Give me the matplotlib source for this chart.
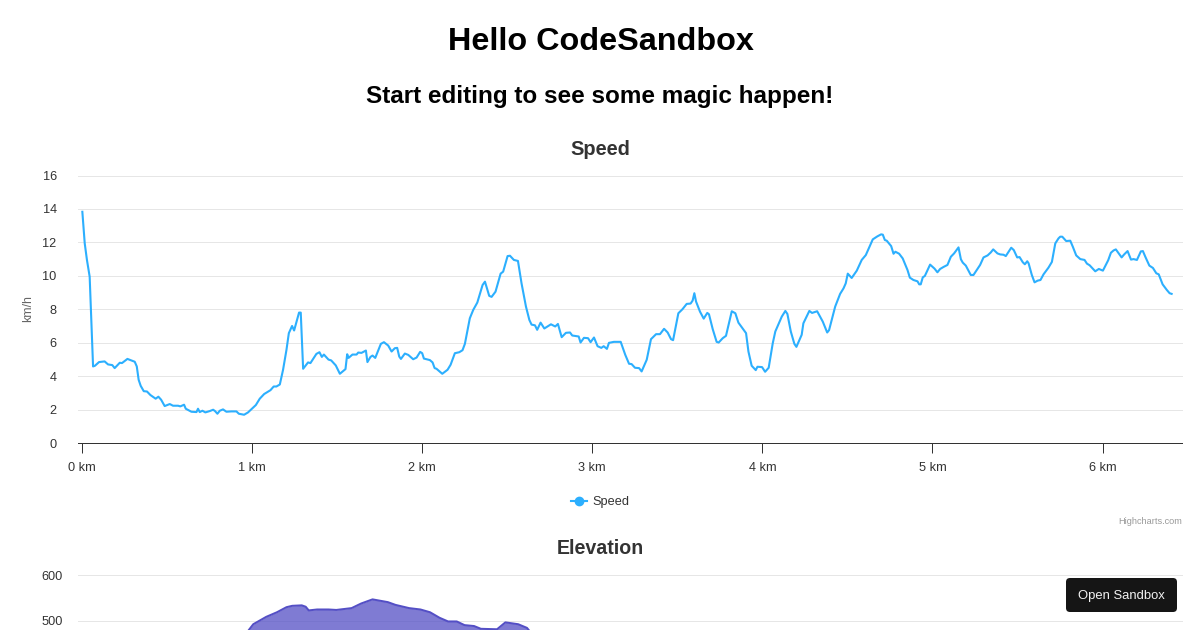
import matplotlib
matplotlib.use('Agg')
import matplotlib.pyplot as plt
from matplotlib.lines import Line2D
from matplotlib.patches import FancyBboxPatch
from matplotlib.transforms import IdentityTransform

plt.rcParams['font.family'] = ['Liberation Sans', 'DejaVu Sans']

# speed series
speed_km = [0.002,0.016,0.029,0.045,0.065,0.076,0.1,0.133,0.153,0.178,0.192,0.222,0.235,0.267,0.31,0.322,0.333,0.345,0.363,0.382,
            0.402,0.433,0.449,0.465,0.486,0.516,0.535,0.565,0.578,0.6,0.61,0.643,0.673,0.682,0.692,0.708,0.725,0.751,0.771,0.782,
            0.796,0.81,0.829,0.849,0.878,0.908,0.922,0.953,0.976,1.022,1.045,1.071,1.108,1.127,1.143,1.163,1.182,1.202,1.216,1.235,
            1.247,1.276,1.286,1.3,1.329,1.343,1.378,1.396,1.41,1.422,1.449,1.465,1.492,1.516,1.549,1.559,1.567,1.59,1.614,1.624,
            1.643,1.669,1.678,1.696,1.708,1.724,1.757,1.775,1.8,1.82,1.839,1.853,1.865,1.875,1.898,1.918,1.947,1.967,1.988,2.0,
            2.01,2.045,2.061,2.073,2.084,2.118,2.149,2.167,2.192,2.218,2.237,2.251,2.28,2.3,2.324,2.355,2.369,2.394,2.408,2.431,
            2.461,2.476,2.502,2.516,2.539,2.563,2.584,2.61,2.63,2.643,2.663,2.676,2.696,2.718,2.757,2.782,2.798,2.82,2.845,2.869,
            2.882,2.92,2.931,2.951,2.975,2.99,3.01,3.031,3.053,3.067,3.086,3.098,3.127,3.167,3.194,3.216,3.231,3.251,3.275,3.29,
            3.32,3.345,3.375,3.398,3.422,3.443,3.463,3.475,3.506,3.53,3.555,3.578,3.59,3.6,3.61,3.633,3.655,3.676,3.686,3.708,
            3.731,3.743,3.767,3.786,3.82,3.841,3.859,3.904,3.918,3.937,3.961,3.971,3.998,4.016,4.037,4.061,4.076,4.114,4.135,4.147,
            4.167,4.188,4.2,4.231,4.241,4.276,4.292,4.322,4.355,4.381,4.392,4.428,4.457,4.477,4.49,4.502,4.525,4.555,4.584,4.608,
            4.649,4.676,4.698,4.708,4.72,4.731,4.757,4.771,4.782,4.804,4.825,4.853,4.867,4.888,4.912,4.922,4.931,4.943,4.955,4.986,
            5.012,5.029,5.045,5.065,5.088,5.108,5.127,5.153,5.167,5.178,5.196,5.225,5.241,5.28,5.3,5.324,5.343,5.357,5.382,5.398,
            5.418,5.431,5.463,5.478,5.498,5.512,5.531,5.543,5.557,5.565,5.584,5.6,5.618,5.635,5.653,5.682,5.702,5.722,5.741,5.751,
            5.763,5.786,5.81,5.825,5.845,5.869,5.894,5.908,5.924,5.957,5.978,6.002,6.033,6.049,6.065,6.078,6.112,6.127,6.147,6.167,
            6.182,6.202,6.225,6.237,6.253,6.275,6.296,6.316,6.33,6.353,6.378,6.394,6.406]
speed_kmh = [13.83,11.94,10.95,9.95,4.58,4.62,4.84,4.88,4.7,4.66,4.48,4.8,4.78,5.03,4.86,4.58,3.78,3.42,3.1,3.08,
             2.87,2.65,2.77,2.59,2.21,2.33,2.23,2.23,2.19,2.29,2.05,1.87,1.85,2.05,1.85,1.93,1.83,1.91,1.99,1.91,
             1.75,1.93,2.01,1.87,1.89,1.89,1.75,1.69,1.83,2.27,2.65,2.93,3.16,3.38,3.38,3.5,4.38,5.57,6.57,7.0,
             6.73,7.8,7.8,4.44,4.82,4.78,5.33,5.43,5.15,5.29,4.99,4.94,4.64,4.14,4.42,5.31,5.09,5.29,5.29,5.41,
             5.39,5.53,4.84,5.15,5.23,5.09,5.93,6.03,5.83,5.47,5.67,5.69,5.17,5.03,5.35,5.27,5.01,5.11,5.45,5.37,
             5.05,4.96,4.82,4.48,4.44,4.14,4.38,4.68,5.37,5.43,5.55,5.93,7.46,7.96,8.4,9.45,9.65,8.8,8.74,9.05,
             10.13,10.25,11.18,11.2,10.95,10.89,9.55,8.16,7.36,7.08,7.04,6.77,7.2,6.85,7.1,6.97,7.12,6.33,6.59,6.61,
             6.43,6.37,6.01,6.29,6.27,6.03,6.31,5.79,5.69,5.79,5.63,5.99,6.05,6.05,5.27,4.74,4.72,4.5,4.48,4.28,
             4.98,6.21,6.51,6.51,6.83,6.61,6.21,6.15,7.76,8.0,8.32,8.34,8.52,8.96,8.46,7.86,7.44,7.78,7.7,6.81,
             6.05,6.01,6.27,6.41,7.88,7.76,7.2,6.57,5.47,4.62,4.36,4.56,4.54,4.26,4.5,5.97,6.67,7.56,7.9,7.72,
             6.67,5.93,5.75,6.47,7.16,7.9,7.78,7.88,7.26,6.61,6.75,8.16,8.92,9.25,9.55,10.13,9.87,10.31,10.95,11.24,
             12.18,12.36,12.48,12.46,12.14,12.1,11.78,11.32,11.44,11.32,11.04,10.35,9.89,9.75,9.67,9.49,9.49,9.91,9.99,10.67,
             10.43,10.21,10.41,10.53,10.65,11.14,11.34,11.7,10.99,10.79,10.61,10.05,10.05,10.65,11.1,11.22,11.4,11.58,11.34,11.28,
             11.26,11.18,11.68,11.54,11.1,11.12,10.81,10.69,10.87,10.75,10.05,9.61,9.71,9.75,10.09,10.49,10.83,11.94,12.24,12.34,
             12.34,12.08,12.1,11.74,11.22,11.0,10.95,10.73,10.63,10.27,10.41,10.31,10.93,11.38,11.52,11.58,11.1,11.28,11.48,10.97,
             11.0,10.95,11.46,11.48,11.1,10.61,10.47,10.15,10.09,9.49,9.15,8.96,8.92]

# elevation, only the top of the second chart is in frame
elev_km = [0.95,0.982,1.007,1.083,1.146,1.202,1.236,1.292,1.315,1.333,1.382,1.449,1.495,1.585,1.641,1.708,1.798,1.843,1.923,1.99,
           2.046,2.102,2.152,2.203,2.249,2.305,2.345,2.44,2.489,2.564,2.616,2.66]
elev_m = [465,481,493,509,519,530,533,534,531,523,525,525,524,528,538,547,541,535,528,525,
          519,507,499,499,491,489,483,482,497,493,485,465]

km_ticks = [0, 1, 2, 3, 4, 5, 6]
km_labels = ['0 km', '1 km', '2 km', '3 km', '4 km', '5 km', '6 km']
speed_ticks = [0, 2, 4, 6, 8, 10, 12, 14, 16]
elev_ticks = [500, 600]

W, H = 1200, 630
TEXT = '#333333'
GRID = '#e6e6e6'
SPEED_COL = '#2caffe'
ELEV_COL = '#544fc5'
xlim = (-0.0265, 6.464)


def px_axes(left, top, right, bottom):
    return fig.add_axes([left/W, 1-bottom/H, (right-left)/W, (bottom-top)/H])


def ftext(x, y, s, **kw):
    return fig.text(x/W, 1-y/H, s, va='center', **kw)


fig = plt.figure(figsize=(12, 6.3), dpi=100, facecolor='white')

ftext(600.5, 41.5, 'Hello CodeSandbox', ha='center', fontsize=23.3, fontweight='bold', color='black')
ftext(600, 97, 'Start editing to see some magic happen!', ha='center', fontsize=17.5, fontweight='bold', color='black')
ftext(600, 149, 'Speed', ha='center', fontsize=14.4, fontweight='bold', color=TEXT)
ftext(600, 549, 'Elevation', ha='center', fontsize=14.1, fontweight='bold', color=TEXT)

# speed chart
ax = px_axes(77.5, 175.5, 1181.5, 443)
ax.plot(speed_km, speed_kmh, color=SPEED_COL, lw=1.5, solid_joinstyle='round')
ax.set_xlim(*xlim)
ax.set_ylim(0, 16)
ax.set_yticks(speed_ticks)
ax.set_xticks(km_ticks)
ax.set_xticklabels(km_labels)
ax.grid(axis='y', color=GRID, lw=0.72)
ax.set_axisbelow(True)
for gl in ax.get_ygridlines():
    gl.set_clip_on(False)
for s in ['top', 'left', 'right']:
    ax.spines[s].set_visible(False)
ax.spines['bottom'].set_color(TEXT)
ax.spines['bottom'].set_linewidth(0.72)
ax.tick_params(axis='y', length=0, pad=15, labelsize=9.2, labelcolor=TEXT)
ax.tick_params(axis='x', length=7, width=0.72, color=TEXT, pad=6.5, labelsize=9.2, labelcolor=TEXT)
for lab in ax.get_yticklabels():
    lab.set_va('center_baseline')
ftext(28.5, 309, 'km/h', ha='center', rotation=90, fontsize=8.8, color='#666666')

handle = Line2D([], [], color=SPEED_COL, lw=1.5, marker='o', markersize=6)
fig.legend([handle], ['Speed'], loc='center', bbox_to_anchor=(600/W, 1-502/H), frameon=False,
           fontsize=9.2, labelcolor=TEXT, handlelength=1.25, handletextpad=0.4)
ftext(1182, 521.5, 'Highcharts.com', ha='right', fontsize=6.6, color='#999999')

# elevation chart, cut off by the bottom of the page
ax2 = px_axes(77.5, 575, 1181.5, 630)
ax2.fill_between(elev_km, elev_m, 0, color=ELEV_COL, alpha=0.75, lw=0)
ax2.plot(elev_km, elev_m, color=ELEV_COL, lw=1.44)
ax2.set_xlim(*xlim)
ax2.set_ylim(480.4, 600)
ax2.set_yticks(elev_ticks)
ax2.set_xticks([])
ax2.grid(axis='y', color=GRID, lw=0.72)
ax2.set_axisbelow(True)
for gl in ax2.get_ygridlines():
    gl.set_clip_on(False)
for s in ax2.spines.values():
    s.set_visible(False)
ax2.tick_params(axis='y', length=0, pad=10.5, labelsize=9.2, labelcolor=TEXT)
for lab in ax2.get_yticklabels():
    lab.set_va('center_baseline')

# Open Sandbox button
fig.add_artist(FancyBboxPatch((1066, H-612), 111, 34, boxstyle='round,pad=0,rounding_size=4',
                              transform=IdentityTransform(), fc='#151515', ec='none', zorder=10))
ftext(1121.5, 596, 'Open Sandbox', ha='center', fontsize=9.4, color='#f2f2f2', zorder=11)

fig.savefig('out.png', dpi=100)
